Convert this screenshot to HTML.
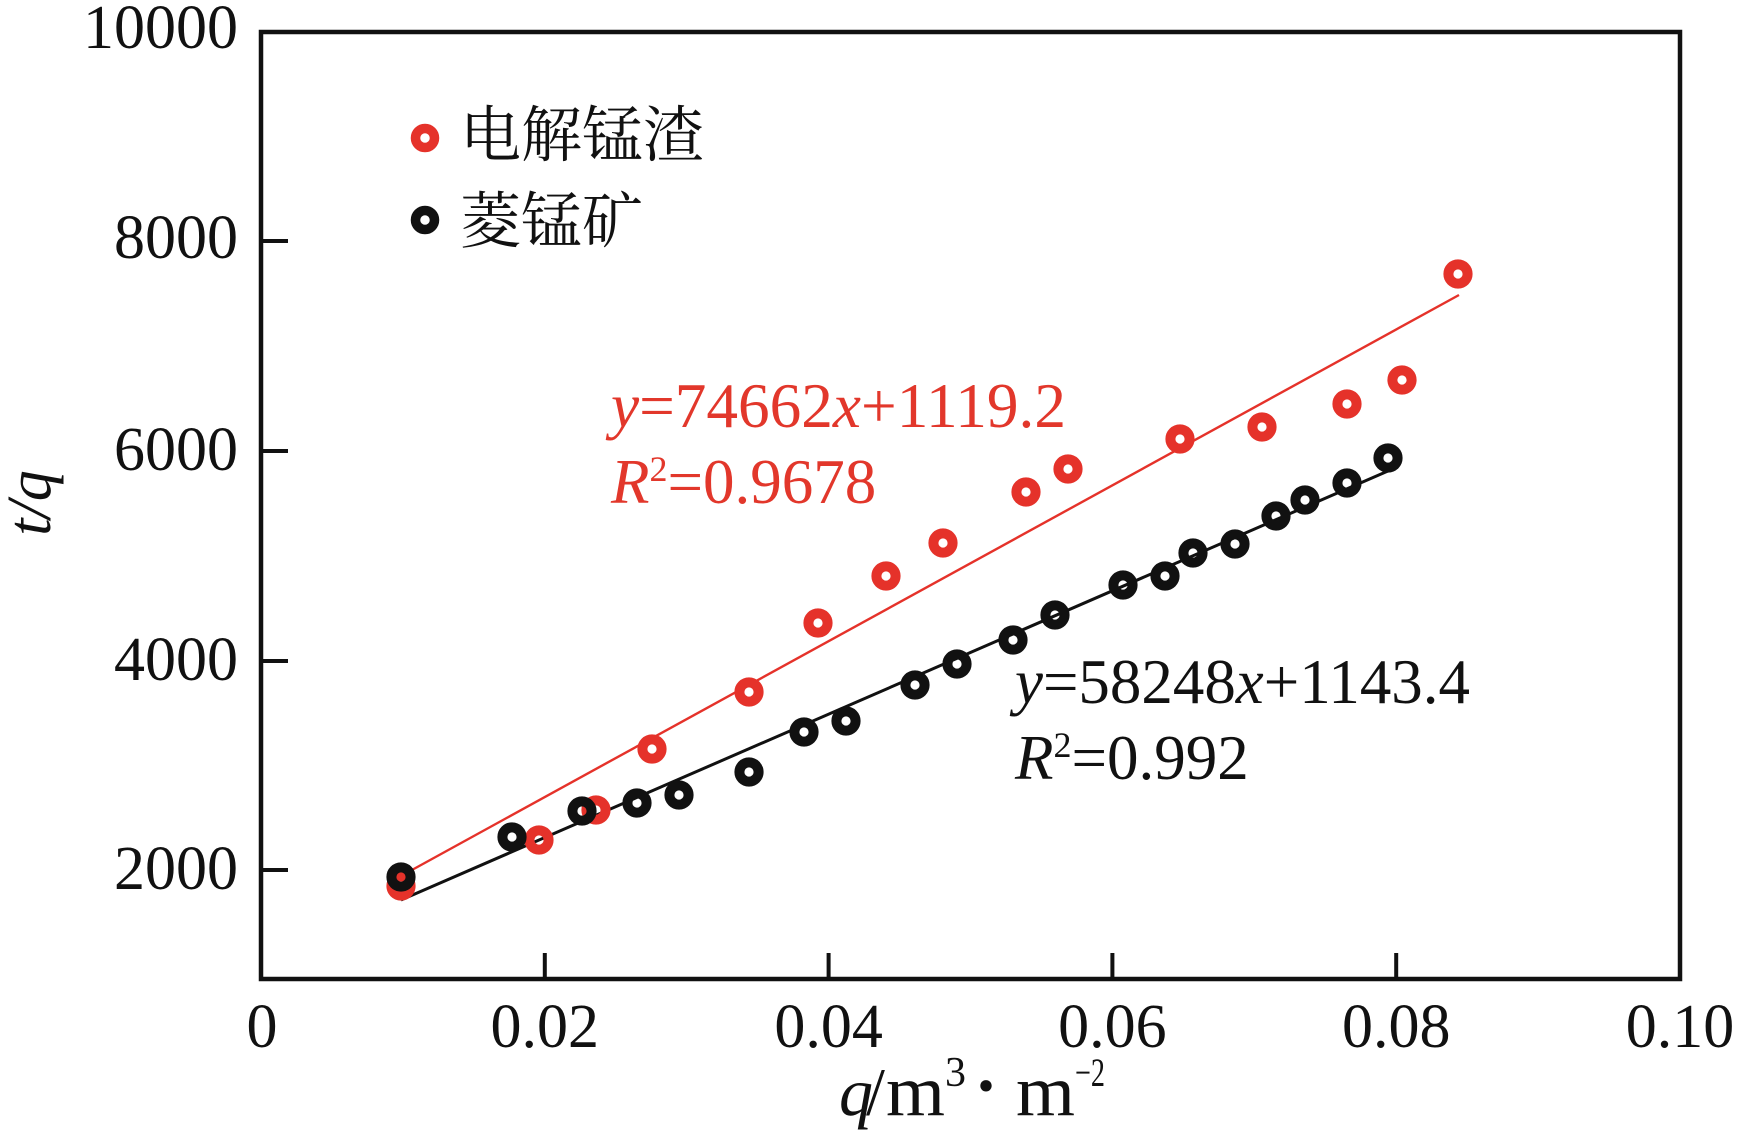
<!DOCTYPE html>
<html>
<head>
<meta charset="utf-8">
<style>
  html,body{margin:0;padding:0;background:#fff;}
  svg{display:block;}
  .n{font-family:"Liberation Serif","Noto Serif CJK SC",serif;}
  .cjk{font-family:"Liberation Serif","Noto Serif CJK SC","Noto Sans CJK SC",serif;}
</style>
</head>
<body>
<svg width="1737" height="1133" viewBox="0 0 1737 1133" xmlns="http://www.w3.org/2000/svg">
  <rect width="1737" height="1133" fill="#fff"/>

  <!-- frame -->
  <rect x="261" y="32" width="1419" height="947" fill="none" stroke="#111" stroke-width="4.5"/>

  <!-- y ticks -->
  <g stroke="#111" stroke-width="4">
    <line x1="261" y1="870" x2="288" y2="870"/>
    <line x1="261" y1="661" x2="288" y2="661"/>
    <line x1="261" y1="451" x2="288" y2="451"/>
    <line x1="261" y1="241" x2="288" y2="241"/>
    <!-- x ticks -->
    <line x1="544.8" y1="979" x2="544.8" y2="953"/>
    <line x1="828.6" y1="979" x2="828.6" y2="953"/>
    <line x1="1112.4" y1="979" x2="1112.4" y2="953"/>
    <line x1="1396.2" y1="979" x2="1396.2" y2="953"/>
  </g>

  <!-- y tick labels -->
  <g class="n" font-size="62" fill="#111" text-anchor="end">
    <text x="238" y="48">10000</text>
    <text x="238" y="258">8000</text>
    <text x="238" y="470">6000</text>
    <text x="238" y="680">4000</text>
    <text x="238" y="889">2000</text>
  </g>

  <!-- x tick labels -->
  <g class="n" font-size="62" fill="#111" text-anchor="middle">
    <text x="262" y="1047">0</text>
    <text x="544.8" y="1047">0.02</text>
    <text x="828.6" y="1047">0.04</text>
    <text x="1112.4" y="1047">0.06</text>
    <text x="1396.2" y="1047">0.08</text>
    <text x="1680" y="1047">0.10</text>
  </g>

  <!-- x axis title -->
  <g class="n" fill="#111">
    <text x="839" y="1115" font-size="68" font-style="italic">q</text>
    <text x="866" y="1115" font-size="68">/</text>
    <text x="886" y="1115" font-size="72" textLength="59" lengthAdjust="spacingAndGlyphs">m</text>
    <text x="945" y="1086" font-size="42">3</text>
    <text x="986" y="1118" font-size="96" text-anchor="middle">·</text>
    <text x="1016" y="1115" font-size="72" textLength="59" lengthAdjust="spacingAndGlyphs">m</text>
    <text x="1075" y="1086" font-size="40" textLength="30" lengthAdjust="spacingAndGlyphs">−2</text>
  </g>

  <!-- y axis title -->
  <text class="n" transform="translate(50,503) rotate(-90)" font-size="62" font-style="italic" text-anchor="middle" fill="#111">t/q</text>

  <!-- legend -->
  <circle cx="425" cy="138" r="9.5" fill="none" stroke="#e5322a" stroke-width="9.5"/>
  <text class="cjk" x="460" y="156" font-size="61" fill="#111">电解锰渣</text>
  <circle cx="425" cy="220" r="9.5" fill="none" stroke="#111" stroke-width="9.5"/>
  <text class="cjk" x="460" y="242" font-size="61" fill="#111">菱锰矿</text>

  <!-- fit lines -->
  <line x1="401" y1="876" x2="1459" y2="295" stroke="#e5322a" stroke-width="2.4"/>
  <line x1="401" y1="900" x2="1388" y2="471" stroke="#111" stroke-width="3"/>

  <!-- red markers -->
  <g fill="none" stroke="#e5322a" stroke-width="10">
    <circle cx="401" cy="886" r="9.6"/>
    <circle cx="539" cy="840" r="9.6"/>
    <circle cx="596" cy="810" r="9.6"/>
    <circle cx="652" cy="749" r="9.6"/>
    <circle cx="749" cy="692" r="9.6"/>
    <circle cx="818" cy="623" r="9.6"/>
    <circle cx="886" cy="576" r="9.6"/>
    <circle cx="943" cy="543" r="9.6"/>
    <circle cx="1026" cy="492" r="9.6"/>
    <circle cx="1068" cy="469" r="9.6"/>
    <circle cx="1180" cy="439" r="9.6"/>
    <circle cx="1262" cy="427" r="9.6"/>
    <circle cx="1347" cy="404" r="9.6"/>
    <circle cx="1402" cy="380" r="9.6"/>
    <circle cx="1458" cy="274" r="9.6"/>
  </g>

  <!-- black markers -->
  <g fill="none" stroke="#111" stroke-width="10">
    <circle cx="401" cy="877" r="9.6"/>
    <circle cx="512" cy="837" r="9.6"/>
    <circle cx="582" cy="811" r="9.6"/>
    <circle cx="637" cy="803" r="9.6"/>
    <circle cx="679" cy="795" r="9.6"/>
    <circle cx="749" cy="772" r="9.6"/>
    <circle cx="804" cy="732" r="9.6"/>
    <circle cx="846" cy="721" r="9.6"/>
    <circle cx="915" cy="685" r="9.6"/>
    <circle cx="957" cy="664" r="9.6"/>
    <circle cx="1013" cy="640" r="9.6"/>
    <circle cx="1055" cy="615" r="9.6"/>
    <circle cx="1123" cy="585" r="9.6"/>
    <circle cx="1165" cy="576" r="9.6"/>
    <circle cx="1193" cy="553" r="9.6"/>
    <circle cx="1235" cy="544" r="9.6"/>
    <circle cx="1276" cy="516" r="9.6"/>
    <circle cx="1305" cy="500" r="9.6"/>
    <circle cx="1347" cy="483" r="9.6"/>
    <circle cx="1388" cy="458" r="9.6"/>
  </g>

  <!-- red equation -->
  <g class="n" fill="#e2372b" font-size="63">
    <text x="611" y="427" textLength="455" lengthAdjust="spacingAndGlyphs"><tspan font-style="italic">y</tspan>=74662<tspan font-style="italic">x</tspan>+1119.2</text>
    <text x="611" y="503"><tspan font-style="italic">R</tspan><tspan font-size="36" dy="-22">2</tspan><tspan dy="22">=0.9678</tspan></text>
  </g>

  <!-- black equation -->
  <g class="n" fill="#111" font-size="63">
    <text x="1015" y="703" textLength="455" lengthAdjust="spacingAndGlyphs"><tspan font-style="italic">y</tspan>=58248<tspan font-style="italic">x</tspan>+1143.4</text>
    <text x="1015" y="779"><tspan font-style="italic">R</tspan><tspan font-size="36" dy="-22">2</tspan><tspan dy="22">=0.992</tspan></text>
  </g>
</svg>
</body>
</html>
